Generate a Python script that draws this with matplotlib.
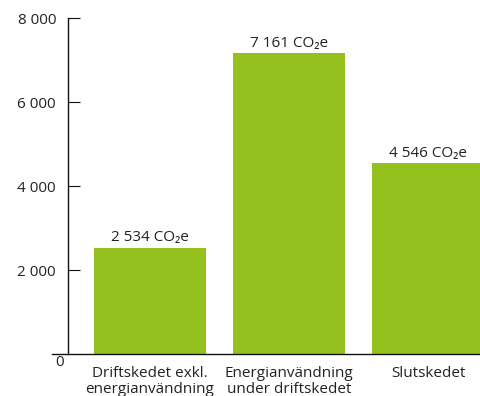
import matplotlib.pyplot as plt
from matplotlib.ticker import FixedLocator, FuncFormatter

plt.rcParams["font.family"] = ["Open Sans", "DejaVu Sans"]

# Klimatpåverkan per skede (kg CO2e)
skeden = ["Driftskedet exkl.\nenergianvändning",
          "Energianvändning\nunder driftskedet",
          "Slutskedet"]
utslapp = [2534, 7161, 4546]
y_ticks = [2000, 4000, 6000, 8000]

green = "#95c11f"
text_col = "#222222"
fs = 11

fig = plt.figure(figsize=(4.81, 3.96), dpi=100)
ax = fig.add_axes([68 / 481, 42 / 396, 1 - 68 / 481, (354 - 18) / 396])

x = list(range(len(skeden)))
ax.bar(x, utslapp, width=0.806, color=green, zorder=2)

for xi, v in zip(x, utslapp):
    lbl = f"{v:,}".replace(",", " ") + " CO₂e"
    ax.annotate(lbl, (xi, v), xytext=(0, 1.5), textcoords="offset points",
                ha="center", va="bottom", fontsize=fs, color=text_col)

ax.set_xlim(-0.59, 2.381)
ax.set_ylim(0, 8000)

for s in ["top", "right", "bottom"]:
    ax.spines[s].set_visible(False)
ax.spines["left"].set_linewidth(1)
ax.spines["left"].set_color("#111111")

# x-axeln sticker ut lite till vänster om y-axeln
ax.plot([-16 / 413, 1], [0, 0], transform=ax.transAxes, color="#111111",
        lw=1, clip_on=False, zorder=3)

ax.yaxis.set_major_locator(FixedLocator(y_ticks))
ax.yaxis.set_major_formatter(FuncFormatter(lambda v, _: f"{int(v):,}".replace(",", " ")))
ax.tick_params(axis="y", direction="in", length=8.6, width=0.8, color="#111111",
               pad=8.6, labelsize=fs, labelcolor=text_col)
ax.text(-8 / 413, -9 / 336, "0", transform=ax.transAxes, ha="center", va="center",
        fontsize=fs, color=text_col)

ax.set_xticks(x)
ax.set_xticklabels(skeden, fontsize=fs, color=text_col, linespacing=1.1)
ax.tick_params(axis="x", length=0, pad=8.5)

fig.savefig("out.png", dpi=100)
